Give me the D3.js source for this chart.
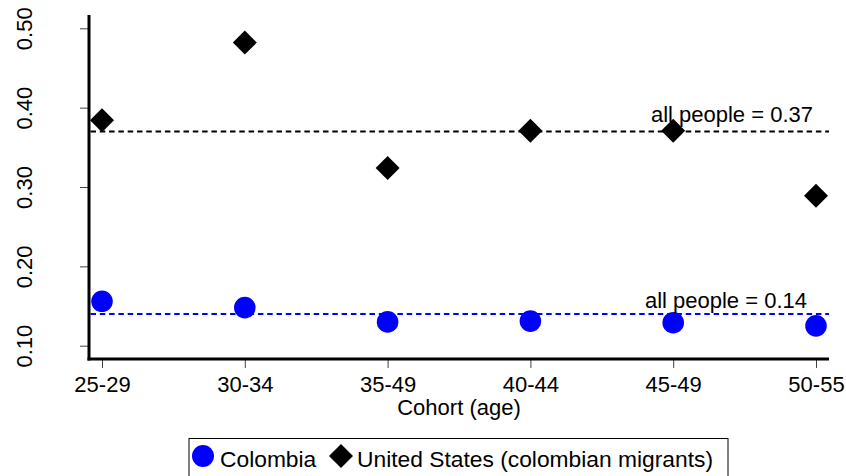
<!DOCTYPE html>
<html>
<head>
<meta charset="utf-8">
<script src="https://cdn.jsdelivr.net/npm/d3@7"></script>
<style>
  body { margin: 0; background: #fff; }
  svg { display: block; font-family: "Liberation Sans", Arial, sans-serif; }
  .axis path { display: none; }
  .axis line { stroke: #444; stroke-width: 1; }
  .axis text { font-size: 22px; fill: #000; }
</style>
</head>
<body>
<svg id="chart" width="846" height="476"></svg>
<script>
var cohorts = ['25-29', '30-34', '35-49', '40-44', '45-49', '50-55'];
var colombia = [0.156, 0.148, 0.130, 0.131, 0.129, 0.125];
var unitedStates = [0.384, 0.482, 0.324, 0.371, 0.371, 0.289];
var yTicks = [0.10, 0.20, 0.30, 0.40, 0.50];
var meanColombia = 0.14;
var meanUS = 0.37;

// plot frame (note: avoid the name "top", it is window.top)
var svg = d3.select('#chart'),
  plotLeft = 89, plotRight = 829, plotTop = 15, plotBottom = 359;

// scales
var xScale = d3.scalePoint().domain(cohorts).range([102, 816]),
  yScale = d3.scaleLinear().domain([0.1, 0.5]).range([345.7, 28.3]);

// y axis
var yAxis = svg.append('g')
  .attr('class', 'axis')
  .attr('transform', 'translate(' + plotLeft + ',0)')
  .call(d3.axisLeft(yScale).tickValues(yTicks).tickSize(9).tickFormat(d3.format('.2f')));
yAxis.selectAll('text')
  .attr('text-anchor', 'middle')
  .attr('x', null).attr('dy', null)
  .attr('transform', 'translate(-57,0) rotate(-90)');

// x axis
var xAxis = svg.append('g')
  .attr('class', 'axis')
  .attr('transform', 'translate(0,' + plotBottom + ')')
  .call(d3.axisBottom(xScale).tickSize(9));
xAxis.selectAll('text').attr('dy', null).attr('y', 33);

// axis lines
svg.append('line')
  .attr('x1', plotLeft).attr('x2', plotLeft).attr('y1', plotTop).attr('y2', plotBottom + 1.5)
  .attr('stroke', '#000').attr('stroke-width', 3);
svg.append('line')
  .attr('x1', plotLeft - 1.5).attr('x2', plotRight).attr('y1', plotBottom).attr('y2', plotBottom)
  .attr('stroke', '#000').attr('stroke-width', 3);

// reference lines
var refs = [
  { v: meanUS, color: '#000', label: 'all people = 0.37', tx: 813, dy: -9.5 },
  { v: meanColombia, color: '#0000ff', label: 'all people = 0.14', tx: 807, dy: -6 }
];
svg.selectAll('.ref')
  .data(refs)
  .enter().append('line')
  .attr('class', 'ref')
  .attr('x1', plotLeft + 1.5).attr('x2', plotRight)
  .attr('y1', function (d) { return yScale(d.v); })
  .attr('y2', function (d) { return yScale(d.v); })
  .attr('stroke', function (d) { return d.color; })
  .attr('stroke-width', 2)
  .attr('stroke-dasharray', '5.5,3.8');

// markers
svg.selectAll('.col')
  .data(colombia)
  .enter().append('circle')
  .attr('class', 'col')
  .attr('cx', function (d, i) { return xScale(cohorts[i]); })
  .attr('cy', function (d) { return yScale(d); })
  .attr('r', 10.8)
  .attr('fill', '#0000ff');

var diamond = 'M0,-12L12,0L0,12L-12,0Z';
svg.selectAll('.us')
  .data(unitedStates)
  .enter().append('path')
  .attr('class', 'us')
  .attr('d', diamond)
  .attr('transform', function (d, i) { return 'translate(' + xScale(cohorts[i]) + ',' + yScale(d) + ')'; })
  .attr('fill', '#000');

// reference labels
svg.selectAll('.reflabel')
  .data(refs)
  .enter().append('text')
  .attr('class', 'reflabel')
  .attr('text-anchor', 'end')
  .attr('font-size', 22)
  .attr('x', function (d) { return d.tx; })
  .attr('y', function (d) { return yScale(d.v) + d.dy; })
  .text(function (d) { return d.label; });

// axis title
svg.append('text')
  .attr('text-anchor', 'middle')
  .attr('font-size', 22)
  .attr('x', (plotLeft + plotRight) / 2)
  .attr('y', 415)
  .text('Cohort (age)');

// legend
var legend = svg.append('g');
legend.append('rect')
  .attr('x', 189).attr('y', 438.5).attr('width', 539).attr('height', 50)
  .attr('fill', 'none').attr('stroke', '#000').attr('stroke-width', 1);
legend.append('circle')
  .attr('cx', 203).attr('cy', 456).attr('r', 11).attr('fill', '#0000ff');
legend.append('text')
  .attr('x', 220).attr('y', 466.5).attr('font-size', 22.8).text('Colombia');
legend.append('path')
  .attr('d', diamond)
  .attr('transform', 'translate(341,456)')
  .attr('fill', '#000');
legend.append('text')
  .attr('x', 357).attr('y', 466.5).attr('font-size', 22.8).text('United States (colombian migrants)');
</script>
</body>
</html>
